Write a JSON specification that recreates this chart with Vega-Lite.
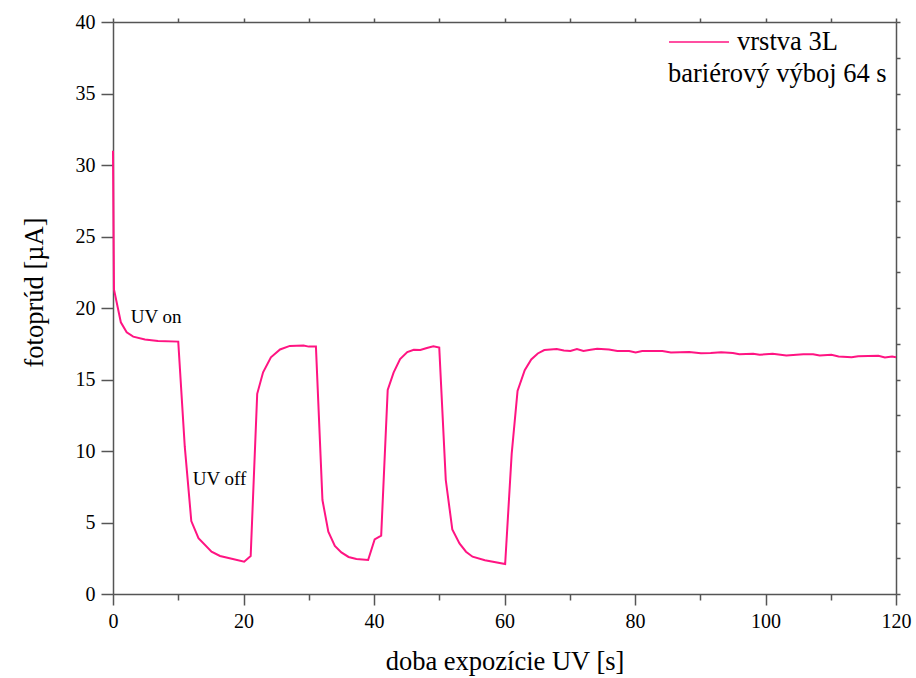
{
  "$schema": "https://vega.github.io/schema/vega-lite/v6.json",
  "width": 783,
  "height": 572,
  "autosize": {"type": "none"},
  "padding": {"left": 113, "top": 22, "right": 20, "bottom": 84},
  "background": "white",
  "config": {
    "view": {"stroke": null},
    "font": "'Liberation Serif', 'Times New Roman', serif",
    "axis": {
      "grid": false,
      "domainColor": "#555555",
      "domainWidth": 1.5,
      "tickColor": "#555555",
      "tickWidth": 1.5,
      "labelFont": "'Liberation Serif', 'Times New Roman', serif",
      "labelFontSize": 20,
      "labelColor": "#000000",
      "titleFont": "'Liberation Serif', 'Times New Roman', serif",
      "titleFontSize": 26.5,
      "titleFontWeight": "normal",
      "titleColor": "#000000"
    },
    "legend": {
      "labelFont": "'Liberation Serif', 'Times New Roman', serif"
    },
    "text": {"font": "'Liberation Serif', 'Times New Roman', serif"}
  },
  "datasets": {
    "curve": [
      {"t": 0, "v": 31.0},
      {"t": 0.15, "v": 21.3},
      {"t": 1.2, "v": 19.0},
      {"t": 2.1, "v": 18.3},
      {"t": 3.1, "v": 18.0},
      {"t": 4.9, "v": 17.8},
      {"t": 6.9, "v": 17.7},
      {"t": 10.0, "v": 17.65},
      {"t": 11.0, "v": 10.3},
      {"t": 12.0, "v": 5.1},
      {"t": 13.1, "v": 3.9},
      {"t": 15.1, "v": 2.96},
      {"t": 16.4, "v": 2.66},
      {"t": 18.2, "v": 2.47},
      {"t": 20.1, "v": 2.26},
      {"t": 21.1, "v": 2.66},
      {"t": 22.1, "v": 14.0},
      {"t": 23.0, "v": 15.5},
      {"t": 24.2, "v": 16.55},
      {"t": 25.6, "v": 17.1},
      {"t": 27.1, "v": 17.35},
      {"t": 29.2, "v": 17.38},
      {"t": 30.0, "v": 17.3},
      {"t": 31.1, "v": 17.3},
      {"t": 32.1, "v": 6.57},
      {"t": 33.0, "v": 4.36},
      {"t": 34.0, "v": 3.36},
      {"t": 35.0, "v": 2.91},
      {"t": 36.1, "v": 2.59},
      {"t": 37.3, "v": 2.45},
      {"t": 39.1, "v": 2.38},
      {"t": 40.1, "v": 3.82},
      {"t": 41.1, "v": 4.08},
      {"t": 42.1, "v": 14.27},
      {"t": 43.0, "v": 15.48},
      {"t": 44.0, "v": 16.43},
      {"t": 45.1, "v": 16.92},
      {"t": 46.1, "v": 17.08},
      {"t": 47.1, "v": 17.06},
      {"t": 48.1, "v": 17.2},
      {"t": 49.1, "v": 17.32},
      {"t": 50.0, "v": 17.23},
      {"t": 51.0, "v": 7.97},
      {"t": 52.0, "v": 4.52},
      {"t": 53.1, "v": 3.54},
      {"t": 54.1, "v": 2.96},
      {"t": 55.1, "v": 2.61},
      {"t": 57.0, "v": 2.36},
      {"t": 60.1, "v": 2.1},
      {"t": 61.1, "v": 9.8},
      {"t": 62.0, "v": 14.2},
      {"t": 63.1, "v": 15.65},
      {"t": 64.1, "v": 16.4},
      {"t": 65.1, "v": 16.82},
      {"t": 66.1, "v": 17.06},
      {"t": 68.0, "v": 17.13},
      {"t": 69.1, "v": 17.03},
      {"t": 70.1, "v": 17.0},
      {"t": 71.1, "v": 17.13},
      {"t": 72.1, "v": 17.0},
      {"t": 73.2, "v": 17.08},
      {"t": 74.2, "v": 17.15},
      {"t": 76.0, "v": 17.1},
      {"t": 77.3, "v": 17.0},
      {"t": 79.1, "v": 16.99},
      {"t": 80.1, "v": 16.89},
      {"t": 81.1, "v": 16.99},
      {"t": 84.2, "v": 16.99},
      {"t": 85.5, "v": 16.89},
      {"t": 88.3, "v": 16.93},
      {"t": 90.1, "v": 16.84},
      {"t": 91.6, "v": 16.86},
      {"t": 93.2, "v": 16.9},
      {"t": 95.0, "v": 16.86},
      {"t": 96.0, "v": 16.77},
      {"t": 98.1, "v": 16.8},
      {"t": 99.1, "v": 16.73},
      {"t": 101.1, "v": 16.8},
      {"t": 103.2, "v": 16.68},
      {"t": 105.8, "v": 16.77},
      {"t": 107.3, "v": 16.77},
      {"t": 108.3, "v": 16.68},
      {"t": 110.1, "v": 16.73},
      {"t": 111.2, "v": 16.61},
      {"t": 113.2, "v": 16.56},
      {"t": 114.2, "v": 16.63},
      {"t": 117.3, "v": 16.66},
      {"t": 118.3, "v": 16.54},
      {"t": 119.4, "v": 16.61},
      {"t": 120, "v": 16.55}
    ],
    "notes": [
      {"t": 2.71, "v": 18.97, "label": "UV on"},
      {"t": 12.21, "v": 7.62, "label": "UV off"}
    ],
    "subtitle": [
      {"t": 85.06, "v": 35.83, "label": "bariérový výboj 64 s"}
    ]
  },
  "layer": [
    {
      "layer": [
        {
          "data": {"name": "curve"},
          "mark": {"type": "line", "strokeWidth": 2, "interpolate": "linear"},
          "encoding": {
            "x": {
              "field": "t",
              "type": "quantitative",
              "scale": {"domain": [0, 120], "nice": false, "zero": false},
              "axis": {
                "orient": "bottom",
                "values": [0, 10, 20, 30, 40, 50, 60, 70, 80, 90, 100, 110, 120],
                "labelExpr": "datum.value % 20 === 0 ? datum.label : ''",
                "tickSize": {"condition": {"test": "datum.value % 20 === 0", "value": 11}, "value": 6},
                "labelFontSize": 20,
                "labelPadding": 6,
                "labelFlush": false,
                "labelOverlap": false,
                "title": "doba expozície UV [s]",
                "titlePadding": 17
              }
            },
            "y": {
              "field": "v",
              "type": "quantitative",
              "scale": {"domain": [0, 40], "nice": false, "zero": false},
              "axis": {
                "orient": "left",
                "values": [0, 2.5, 5, 7.5, 10, 12.5, 15, 17.5, 20, 22.5, 25, 27.5, 30, 32.5, 35, 37.5, 40],
                "labelExpr": "datum.value % 5 === 0 ? datum.label : ''",
                "tickSize": {"condition": {"test": "datum.value % 5 === 0", "value": 12}, "value": 6},
                "labelFontSize": 20,
                "labelPadding": 6,
                "labelFlush": false,
                "labelOverlap": false,
                "title": "fotoprúd [µA]",
                "titlePadding": 27,
                "titleY": 270
              }
            },
            "color": {
              "datum": "vrstva 3L",
              "type": "nominal",
              "scale": {"range": ["#ff1482"]},
              "legend": {
                "title": null,
                "orient": "none",
                "legendX": 555,
                "legendY": -11,
                "padding": 0,
                "symbolType": "stroke",
                "symbolSize": 3600,
                "symbolStrokeWidth": 1.5,
                "labelFontSize": 26.5,
                "labelColor": "#000000",
                "labelOffset": 7
              }
            }
          }
        },
        {
          "data": {"name": "notes"},
          "mark": {"type": "text", "align": "left", "baseline": "alphabetic", "fontSize": 19, "color": "#000000"},
          "encoding": {
            "x": {"field": "t", "type": "quantitative"},
            "y": {"field": "v", "type": "quantitative"},
            "text": {"field": "label"}
          }
        },
        {
          "data": {"name": "subtitle"},
          "mark": {"type": "text", "align": "left", "baseline": "alphabetic", "fontSize": 26.5, "color": "#000000"},
          "encoding": {
            "x": {"field": "t", "type": "quantitative"},
            "y": {"field": "v", "type": "quantitative"},
            "text": {"field": "label"}
          }
        }
      ]
    },
    {
      "data": {"name": "curve"},
      "mark": {"type": "line", "opacity": 0},
      "encoding": {
        "x": {
          "field": "t",
          "type": "quantitative",
          "scale": {"domain": [0, 120], "nice": false, "zero": false},
          "axis": {
            "orient": "top",
            "values": [0, 10, 20, 30, 40, 50, 60, 70, 80, 90, 100, 110, 120],
            "labels": false,
            "tickSize": 4,
            "title": null
          }
        },
        "y": {
          "field": "v",
          "type": "quantitative",
          "scale": {"domain": [0, 40], "nice": false, "zero": false},
          "axis": {
            "orient": "right",
            "values": [0, 2.5, 5, 7.5, 10, 12.5, 15, 17.5, 20, 22.5, 25, 27.5, 30, 32.5, 35, 37.5, 40],
            "labels": false,
            "tickSize": 4,
            "title": null
          }
        }
      }
    }
  ],
  "resolve": {"scale": {"x": "independent", "y": "independent"}}
}
